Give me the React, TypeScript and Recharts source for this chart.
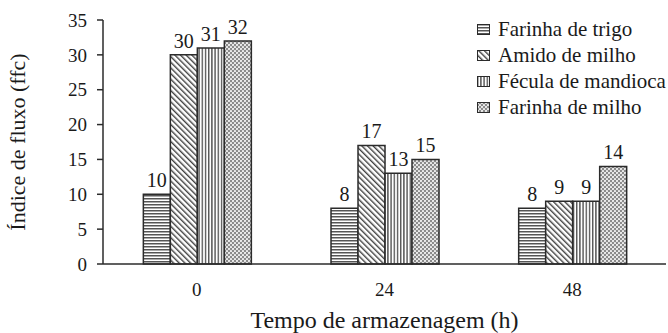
import React from "react";
import { BarChart, Bar, XAxis, YAxis, LabelList } from "recharts";

const categories = ["0", "24", "48"];
const farinhaTrigo = [10, 8, 8];
const amidoMilho = [30, 17, 9];
const feculaMandioca = [31, 13, 9];
const farinhaMilho = [32, 15, 14];
const yTicks = [0, 5, 10, 15, 20, 25, 30, 35];

const seriesNames = ["Farinha de trigo", "Amido de milho", "Fécula de mandioca", "Farinha de milho"];
const seriesKeys = ["trigo", "amido", "fecula", "milho"];
const patternIds = ["pHoriz", "pDiag", "pVert", "pCheck"];

const data = categories.map((c, i) => ({
  cat: c,
  trigo: farinhaTrigo[i],
  amido: amidoMilho[i],
  fecula: feculaMandioca[i],
  milho: farinhaMilho[i],
}));

const FONT = "Liberation Serif";
const INK = "#2b2b2b";
const TXT = "#1a1a1a";

const Patterns = () => (
  <defs>
    <pattern id="pHoriz" patternUnits="userSpaceOnUse" width="4" height="3">
      <rect width="4" height="3" fill="#ffffff" />
      <rect y="0" width="4" height="1.5" fill="#555555" />
    </pattern>
    <pattern id="pDiag" patternUnits="userSpaceOnUse" width="4" height="4" patternTransform="rotate(-45)">
      <rect width="4" height="4" fill="#ffffff" />
      <rect x="0" width="1.4" height="4" fill="#404040" />
    </pattern>
    <pattern id="pVert" patternUnits="userSpaceOnUse" width="3.2" height="4">
      <rect width="3.2" height="4" fill="#ffffff" />
      <rect x="0" width="1.4" height="4" fill="#555555" />
    </pattern>
    <pattern id="pCheck" patternUnits="userSpaceOnUse" width="4" height="4">
      <rect width="4" height="4" fill="#8a8a8a" />
      <circle cx="1" cy="1" r="1.1" fill="#f2f2f2" />
      <circle cx="3" cy="3" r="1.1" fill="#f2f2f2" />
    </pattern>
  </defs>
);

const LegendBox = () => (
  <div
    style={{
      position: "absolute",
      left: 477,
      top: 16,
      fontFamily: FONT,
      fontSize: 21,
      color: TXT,
      lineHeight: "26px",
    }}
  >
    {seriesNames.map((n, i) => (
      <div key={n} style={{ display: "flex", alignItems: "center", height: 26 }}>
        <svg width={13} height={11} style={{ marginRight: 8, flex: "none" }}>
          <rect x={0.5} y={0.5} width={12} height={10} fill={`url(#${patternIds[i]})`} stroke={INK} strokeWidth={1} />
        </svg>
        <span style={{ whiteSpace: "nowrap" }}>{n}</span>
      </div>
    ))}
  </div>
);

export default function App() {
  return (
    <div style={{ position: "absolute", left: 0, top: 0, width: 668, height: 333, background: "#fff" }}>
      <BarChart
        width={668}
        height={333}
        data={data}
        margin={{ top: 20, right: 2, bottom: 0, left: 0 }}
        barCategoryGap="21.5%"
        barGap={0}
      >
        <Patterns />
        <XAxis
          dataKey="cat"
          height={69}
          tickLine={false}
          tickSize={0}
          tickMargin={19}
          axisLine={{ stroke: INK, strokeWidth: 1.5 }}
          tick={{ fill: TXT, fontSize: 19, fontFamily: FONT }}
          label={{ value: "Tempo de armazenagem (h)", position: "insideBottom", offset: 5, fill: TXT, fontSize: 24, fontFamily: FONT }}
        />
        <YAxis
          width={103}
          domain={[0, 35]}
          ticks={yTicks}
          interval={0}
          tickSize={6}
          tickMargin={10}
          tickLine={{ stroke: INK, strokeWidth: 1.5 }}
          axisLine={{ stroke: INK, strokeWidth: 1.5 }}
          tick={{ fill: TXT, fontSize: 19, fontFamily: FONT }}
          label={{ value: "Índice de fluxo (ffc)", angle: -90, position: "insideLeft", offset: 17, style: { textAnchor: "middle" }, fill: TXT, fontSize: 22, fontFamily: FONT }}
        />
        {seriesKeys.map((k, i) => (
          <Bar
            key={k}
            dataKey={k}
            name={seriesNames[i]}
            fill={`url(#${patternIds[i]})`}
            stroke={INK}
            strokeWidth={1.5}
            isAnimationActive={false}
          >
            <LabelList dataKey={k} position="top" offset={7} fill={TXT} fontSize={20} fontFamily={FONT} />
          </Bar>
        ))}
      </BarChart>
      <LegendBox />
    </div>
  );
}
